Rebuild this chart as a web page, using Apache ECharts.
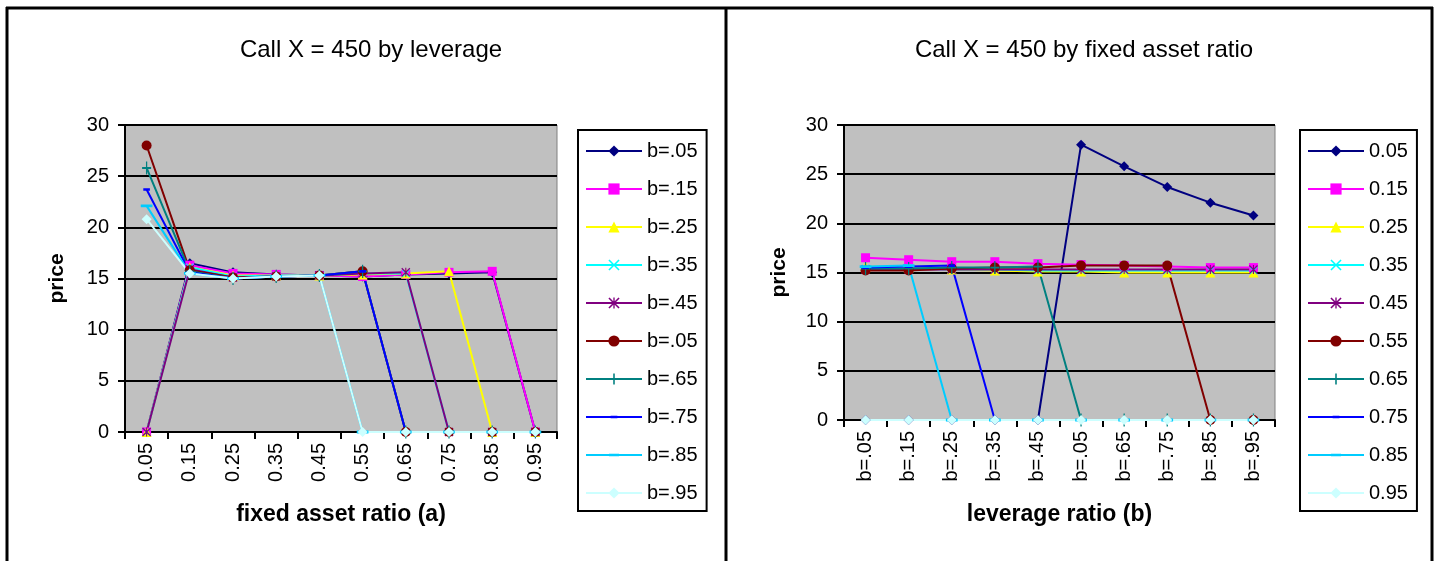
<!DOCTYPE html>
<html>
<head>
<meta charset="utf-8">
<script src="https://cdn.jsdelivr.net/npm/echarts@6/dist/echarts.min.js"></script>
<style>
  html, body { margin: 0; padding: 0; background: #fff; }
  #main { width: 1435px; height: 561px; }
</style>
</head>
<body>
<div id="main"></div>
<script>
// fixed asset ratio (a) categories, leverage ratio (b) categories
const aLabels = ['0.05', '0.15', '0.25', '0.35', '0.45', '0.55', '0.65', '0.75', '0.85', '0.95'];
const bLabels = ['b=.05', 'b=.15', 'b=.25', 'b=.35', 'b=.45', 'b=.05', 'b=.65', 'b=.75', 'b=.85', 'b=.95'];
const yTicks = [0, 5, 10, 15, 20, 25, 30];

// call price, one row per fixed asset ratio a, columns = leverage b
const priceA05 = [0, 0, 0, 0, 0, 28.0, 25.8, 23.7, 22.1, 20.8];
const priceA15 = [16.5, 16.3, 16.1, 16.1, 15.9, 15.8, 15.7, 15.6, 15.5, 15.5];
const priceA25 = [15.6, 15.5, 15.3, 15.2, 15.1, 15.1, 15.0, 15.0, 15.0, 15.0];
const priceA35 = [15.4, 15.4, 15.3, 15.3, 15.2, 15.2, 15.2, 15.2, 15.2, 15.2];
const priceA45 = [15.3, 15.3, 15.3, 15.3, 15.3, 15.3, 15.3, 15.3, 15.3, 15.3];
const priceA55 = [15.2, 15.2, 15.4, 15.5, 15.5, 15.7, 15.7, 15.7, 0, 0];
const priceA65 = [15.4, 15.4, 15.5, 15.5, 15.6, 0, 0, 0, 0, 0];
const priceA75 = [15.5, 15.6, 15.7, 0, 0, 0, 0, 0, 0, 0];
const priceA85 = [15.6, 15.7, 0, 0, 0, 0, 0, 0, 0, 0];
const priceA95 = [0, 0, 0, 0, 0, 0, 0, 0, 0, 0];

const rows = [priceA05, priceA15, priceA25, priceA35, priceA45, priceA55, priceA65, priceA75, priceA85, priceA95];

// excel-ish series look
const colors = ['#000080', '#FF00FF', '#FFFF00', '#00FFFF', '#800080', '#800000', '#008080', '#0000FF', '#00CCFF', '#CCFFFF'];
const xPath = 'path://M0,1L1,0L5,4L9,0L10,1L6,5L10,9L9,10L5,6L1,10L0,9L4,5Z';
const starPath = 'path://M0,1L1,0L5,4L9,0L10,1L6,5L10,9L9,10L5,6L1,10L0,9L4,5ZM4.4,0H5.6V10H4.4Z';
const plusPath = 'path://M4.3,0H5.7V4.3H10V5.7H5.7V10H4.3V5.7H0V4.3H4.3Z';
// bars inside a square box (tiny corner specks keep the box square)
const dashPath = 'path://M0,0L0.01,0L0,0.01ZM10,10L9.99,10L10,9.99ZM2,3.8H8V6.2H2Z';
const longDashPath = 'path://M0,0L0.01,0L0,0.01ZM10,10L9.99,10L10,9.99ZM0.5,3.9H9.5V6.1H0.5Z';
const symbols = ['diamond', 'rect', 'triangle', xPath, starPath, 'circle', plusPath, dashPath, longDashPath, 'diamond'];
const symbolSizes = [10, 9, 10, 8, 9, 10, [9, 13], 11, 13, 10];

const legendLeft = ['b=.05', 'b=.15', 'b=.25', 'b=.35', 'b=.45', 'b=.05', 'b=.65', 'b=.75', 'b=.85', 'b=.95'];
const legendRight = aLabels;

const font = 'Liberation Sans, Arial, sans-serif';
const nameMap = {};

function makeSeries(prefix, labels, data, idx) {
  return labels.map((lab, i) => {
    const id = prefix + i;
    nameMap[id] = lab;
    return {
      name: id,
      type: 'line',
      xAxisIndex: idx,
      yAxisIndex: idx,
      data: data(i),
      symbol: symbols[i],
      symbolSize: symbolSizes[i],
      showAllSymbol: true,
      itemStyle: { color: colors[i] },
      lineStyle: { color: colors[i], width: 2 },
      emphasis: { disabled: true }
    };
  });
}

// left: x = a, one line per b (column of rows)
const leftSeries = makeSeries('L', legendLeft, i => rows.map(r => r[i]), 0);
// right: x = b, one line per a (row)
const rightSeries = makeSeries('R', legendRight, i => rows[i].slice(), 1);

function yAxis(gridIndex, gap) {
  return {
    type: 'value', gridIndex: gridIndex,
    min: yTicks[0], max: yTicks[yTicks.length - 1], interval: 5,
    name: 'price', nameLocation: 'middle', nameRotate: 90, nameGap: gap,
    nameTextStyle: { fontFamily: font, fontSize: 21, fontWeight: 'bold', color: '#000' },
    axisLine: { show: true, lineStyle: { color: '#000', width: 2 } },
    axisTick: { show: true, length: 7, lineStyle: { color: '#000', width: 2 } },
    axisLabel: { fontFamily: font, fontSize: 20, color: '#000', margin: 16 },
    splitLine: { show: true, lineStyle: { color: '#000', width: 2 } }
  };
}

function xAxis(gridIndex, cats, name, gap) {
  return {
    type: 'category', gridIndex: gridIndex, data: cats, boundaryGap: true,
    name: name, nameLocation: 'middle', nameGap: gap,
    nameTextStyle: { fontFamily: font, fontSize: 23, fontWeight: 'bold', color: '#000' },
    axisLine: { show: true, lineStyle: { color: '#000', width: 2 } },
    axisTick: { show: true, length: 7, interval: 0, lineStyle: { color: '#000', width: 2 } },
    axisLabel: { fontFamily: font, fontSize: 20, color: '#000', rotate: 90, interval: 0, margin: 11 },
    splitLine: { show: false }
  };
}

function legend(ids, left) {
  return {
    data: ids, orient: 'vertical', left: left, top: 130, height: 380,
    padding: [11, 9, 8, 7],
    itemWidth: 56, itemHeight: 14, itemGap: 18,
    backgroundColor: '#fff', borderColor: '#000', borderWidth: 2,
    formatter: n => nameMap[n],
    textStyle: { fontFamily: font, fontSize: 20, color: '#000' },
    selectedMode: false
  };
}

const chart = echarts.init(document.getElementById('main'));
chart.setOption({
  animation: false,
  backgroundColor: '#fff',
  title: [
    { text: 'Call X = 450 by leverage', left: 366, top: 33, textAlign: 'center',
      textStyle: { fontFamily: font, fontSize: 24, fontWeight: 'normal', color: '#000' } },
    { text: 'Call X = 450 by fixed asset ratio', left: 1079, top: 33, textAlign: 'center',
      textStyle: { fontFamily: font, fontSize: 24, fontWeight: 'normal', color: '#000' } }
  ],
  grid: [
    { left: 125, top: 125, width: 432, height: 307, show: true, backgroundColor: '#C0C0C0', borderColor: '#808080', borderWidth: 1 },
    { left: 844, top: 125, width: 431, height: 295, show: true, backgroundColor: '#C0C0C0', borderColor: '#808080', borderWidth: 1 }
  ],
  xAxis: [
    xAxis(0, aLabels, 'fixed asset ratio (a)', 71),
    xAxis(1, bLabels, 'leverage ratio (b)', 83)
  ],
  yAxis: [yAxis(0, 57), yAxis(1, 54)],
  legend: [
    legend(leftSeries.map(s => s.name), 578),
    legend(rightSeries.map(s => s.name), 1300)
  ],
  graphic: [
    { type: 'line', shape: { x1: 6, y1: 8, x2: 1433, y2: 8 }, style: { stroke: '#000', lineWidth: 3 } },
    { type: 'line', shape: { x1: 7, y1: 7, x2: 7, y2: 561 }, style: { stroke: '#000', lineWidth: 3 } },
    { type: 'line', shape: { x1: 726, y1: 7, x2: 726, y2: 561 }, style: { stroke: '#000', lineWidth: 3 } },
    { type: 'line', shape: { x1: 1432, y1: 7, x2: 1432, y2: 561 }, style: { stroke: '#000', lineWidth: 3 } }
  ],
  series: leftSeries.concat(rightSeries)
});
</script>
</body>
</html>
